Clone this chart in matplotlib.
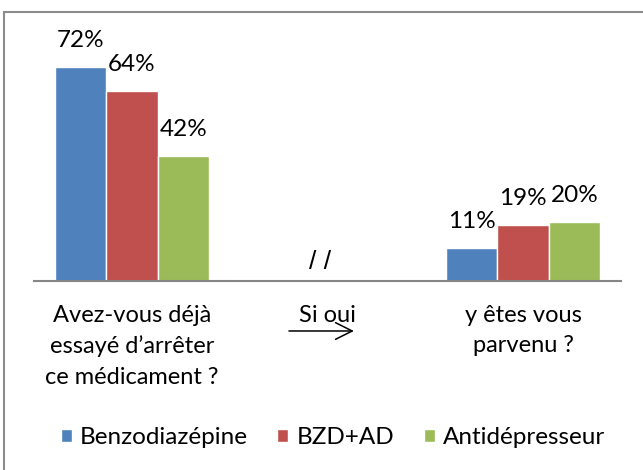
import matplotlib
matplotlib.use("Agg")
import matplotlib.pyplot as plt
import matplotlib.patches as mpatches
import numpy as np

plt.rcParams['font.family'] = ['Lato', 'DejaVu Sans']

categories = ["Avez-vous déjà\nessayé d\u2019arrêter\nce médicament ?", "Si oui", "y êtes vous\nparvenu ?"]
series_names = ["Benzodiazépine", "BZD+AD", "Antidépresseur"]
benzo = [0.72, None, 0.11]
bzd_ad = [0.64, None, 0.19]
antidep = [0.42, None, 0.20]
colors = ["#4F81BD", "#C0504D", "#9BBB59"]

W, H = 643, 470
fig = plt.figure(figsize=(W / 100, H / 100), dpi=100)
ax = fig.add_axes([34 / W, (H - 281) / H, (621 - 34) / W, (281 - 43.4) / H])

x = np.arange(len(categories))
bw = 0.263
series = [benzo, bzd_ad, antidep]
for i, (vals, name, col) in enumerate(zip(series, series_names, colors)):
    xs = [xi + (i - 1) * bw for xi, v in zip(x, vals) if v is not None]
    vs = [v for v in vals if v is not None]
    ax.bar(xs, vs, width=bw, color=col, edgecolor="white", linewidth=1.0, label=name, zorder=2)
    for xx, v in zip(xs, vs):
        ax.annotate(f"{round(v * 100)}%", (xx, v), xytext=(0, 14.4), textcoords="offset points",
                    ha="center", va="baseline", fontsize=17.5, color="black")

ax.set_xlim(-0.5, 2.5)
ax.set_ylim(0, 0.8)
for s in ["top", "left", "right"]:
    ax.spines[s].set_visible(False)
ax.spines["bottom"].set_color("#868686")
ax.spines["bottom"].set_linewidth(1.5)
ax.spines["bottom"].set_zorder(3)
ax.set_yticks([])
ax.set_xticks(x)
ax.set_xticklabels(categories, fontsize=17, linespacing=1.55)
ax.tick_params(axis="x", length=0, pad=17)

# break mark
ax.text(0.962, 0.064, "/ /", ha="center", va="center", fontsize=19,
        family="Liberation Sans", color="black")

# arrow under "Si oui"
ax.annotate("", xy=(1.135, -0.2104), xytext=(0.803, -0.2104),
            xycoords=("data", "axes fraction"), textcoords=("data", "axes fraction"),
            arrowprops=dict(arrowstyle="->,head_length=0.6,head_width=0.3", mutation_scale=20,
                            lw=1.1, color="black", shrinkA=0, shrinkB=0), annotation_clip=False)

fig.legend(loc="center", bbox_to_anchor=(333 / W, 32 / H), ncol=3, frameon=False,
           fontsize=17.5, handlelength=0.45, handleheight=0.45, handletextpad=0.35,
           columnspacing=1.2)

border = mpatches.Rectangle((4 / W, -0.1), 2, (H - 12) / H + 0.1, transform=fig.transFigure,
                            fill=False, edgecolor="#8c8c8c", linewidth=1.5)
fig.patches.append(border)

fig.savefig("out.png", dpi=100)
